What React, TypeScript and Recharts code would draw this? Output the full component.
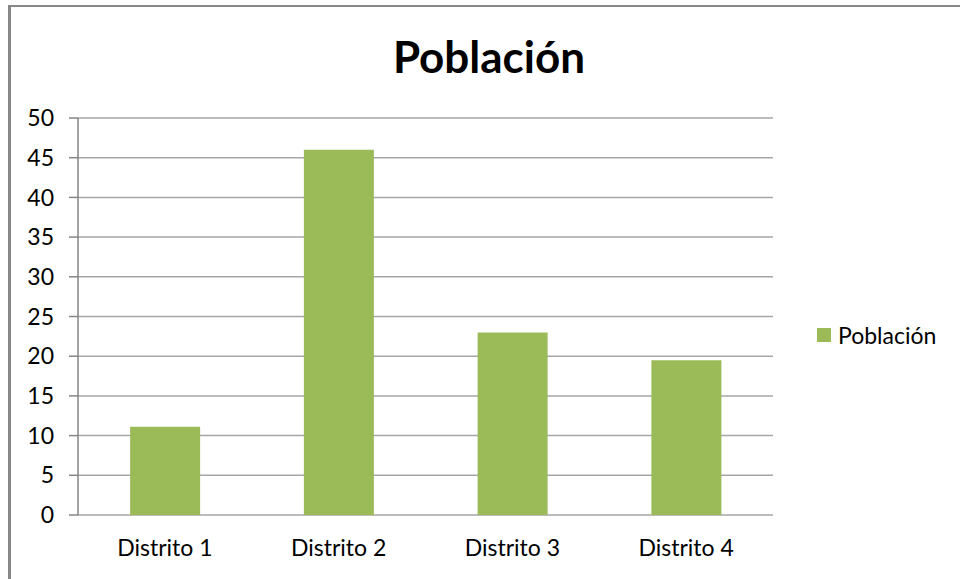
import React from "react"
import { BarChart, Bar, XAxis, YAxis, CartesianGrid, Legend } from "recharts"

// values
const distritos = ["Distrito 1", "Distrito 2", "Distrito 3", "Distrito 4"]
const poblacion = [11.1, 46, 23, 19.5]
const yTicks = [0, 5, 10, 15, 20, 25, 30, 35, 40, 45, 50]
const boundaryTicks = [0, 1, 2, 3, 4]

const data = distritos.map((name, i) => ({ name, value: poblacion[i] }))

const FONT = "Lato, 'Open Sans', sans-serif"
const GREEN = "#9BBB59"
const GRID = "#A6A6A6"
const AXIS = "#868686"

function LegendContent() {
  return (
    <div style={{ display: "flex", alignItems: "center", fontFamily: FONT, fontSize: 23, color: "#000" }}>
      <span style={{ width: 14, height: 14, background: GREEN, display: "inline-block", marginRight: 7 }} />
      <span>Población</span>
    </div>
  )
}

export default function App() {
  return (
    <div style={{ position: "absolute", left: 0, top: 0, width: 960, height: 579, background: "#fff", overflow: "hidden" }}>
      <svg width={960} height={100} style={{ position: "absolute", left: 0, top: 0 }}>
        <text x={489} y={73} textAnchor="middle" fontFamily={FONT} fontWeight={700} fontSize={44} fill="#000">
          Población
        </text>
      </svg>

      <div style={{ position: "absolute", left: 0, top: 0 }}>
        <BarChart
          width={960}
          height={579}
          data={data}
          margin={{ top: 118, right: 187, left: 8, bottom: 24 }}
          barCategoryGap="30%"
        >
          <CartesianGrid vertical={false} stroke={GRID} strokeWidth={1.5} />
          <XAxis
            xAxisId="edges"
            type="number"
            domain={[0, 4]}
            ticks={boundaryTicks}
            tick={false}
            height={0}
            axisLine={{ stroke: AXIS, strokeWidth: 1.5 }}
            tickLine={{ stroke: AXIS, strokeWidth: 1.5 }}
            tickSize={9}
            allowDataOverflow
          />
          <XAxis
            dataKey="name"
            height={40}
            axisLine={false}
            tickLine={false}
            tickSize={0}
            tickMargin={25}
            tick={{ fill: "#000", fontSize: 23, fontFamily: FONT }}
          />
          <YAxis
            domain={[0, 50]}
            ticks={yTicks}
            width={70}
            axisLine={{ stroke: AXIS, strokeWidth: 1.5 }}
            tickLine={{ stroke: AXIS, strokeWidth: 1.5 }}
            tickSize={9}
            tickMargin={15}
            tick={{ fill: "#000", fontSize: 23, fontFamily: FONT }}
          />
          <Legend
            layout="horizontal"
            align="center"
            verticalAlign="middle"
            content={<LegendContent />}
            wrapperStyle={{ position: "absolute", left: 817, top: 321, width: 140 }}
          />
          <Bar dataKey="value" name="Población" fill={GREEN} isAnimationActive={false} />
        </BarChart>
      </div>

      {/* frame */}
      <div style={{ position: "absolute", left: 8, top: 5, width: 952, height: 2, background: "#888" }} />
      <div style={{ position: "absolute", left: 8, top: 5, width: 3, height: 574, background: "#888" }} />
    </div>
  )
}
